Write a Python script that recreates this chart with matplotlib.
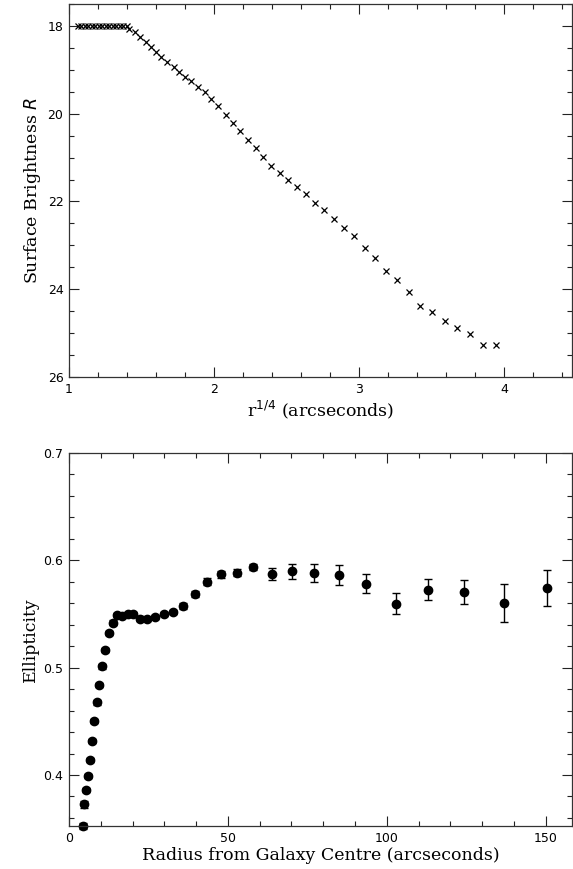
import matplotlib
matplotlib.use("Agg")
import matplotlib.pyplot as plt
from matplotlib.ticker import MultipleLocator

# Surface brightness profile: r^(1/4) (arcsec) vs R-band surface brightness
r_quarter = [1.062, 1.086, 1.110, 1.134, 1.158, 1.182, 1.206, 1.230, 1.254, 1.278,
             1.303, 1.327, 1.351, 1.375, 1.399,
             1.415, 1.454, 1.491, 1.528, 1.564, 1.601, 1.638, 1.679, 1.721, 1.759,
             1.800, 1.844, 1.890, 1.936, 1.982, 2.030, 2.081, 2.129, 2.179, 2.232,
             2.287, 2.340, 2.395, 2.452, 2.512, 2.571, 2.633, 2.698, 2.762, 2.829,
             2.897, 2.966, 3.039, 3.113, 3.187, 3.264, 3.342, 3.422, 3.505, 3.590,
             3.675, 3.765, 3.854, 3.946]
mu_R = [18.00, 18.00, 18.00, 18.00, 18.00, 18.00, 18.00, 18.00, 18.00, 18.00,
        18.00, 18.00, 18.00, 18.00, 18.00,
        18.06, 18.14, 18.25, 18.36, 18.48, 18.59, 18.71, 18.82, 18.93, 19.05,
        19.16, 19.26, 19.39, 19.50, 19.66, 19.83, 20.02, 20.21, 20.40, 20.59,
        20.78, 20.99, 21.19, 21.36, 21.52, 21.67, 21.84, 22.03, 22.19, 22.40,
        22.60, 22.79, 23.07, 23.28, 23.59, 23.79, 24.06, 24.38, 24.52, 24.72,
        24.88, 25.01, 25.27, 25.28]

# Ellipticity profile with 1-sigma errors
radius = [4.3, 4.8, 5.35, 6.0, 6.5, 7.1, 7.8, 8.7, 9.4, 10.4,
          11.4, 12.6, 13.85, 15.2, 16.7, 18.5, 20.2, 22.3, 24.6, 27.1,
          29.8, 32.8, 36.0, 39.6, 43.5, 47.9, 52.8, 58.0, 63.8, 70.2,
          77.2, 85.0, 93.4, 102.8, 113.1, 124.3, 136.8, 150.5]
ellipticity = [0.3526, 0.3727, 0.3860, 0.3993, 0.4142, 0.4316, 0.4500, 0.4676, 0.4840, 0.5011,
               0.5166, 0.5321, 0.5420, 0.5488, 0.5482, 0.5498, 0.5498, 0.5458, 0.5454, 0.5473,
               0.5500, 0.5516, 0.5575, 0.5687, 0.5802, 0.5870, 0.5886, 0.5938, 0.5873, 0.5898,
               0.5882, 0.5863, 0.5783, 0.5597, 0.5724, 0.5709, 0.5603, 0.5742]
ell_err = [0.003, 0.003, 0.002, 0.002, 0.002, 0.002, 0.002, 0.002, 0.002, 0.002,
           0.002, 0.002, 0.002, 0.002, 0.002, 0.002, 0.002, 0.002, 0.002, 0.002,
           0.002, 0.002, 0.003, 0.003, 0.003, 0.003, 0.003, 0.003, 0.0056, 0.0070,
           0.0082, 0.0093, 0.0088, 0.0099, 0.0098, 0.0112, 0.0180, 0.0164]

plt.rcParams['font.family'] = ['DejaVu Serif']
fig = plt.figure(figsize=(5.73, 8.69), dpi=100)

ax1 = fig.add_axes([0.1204, 0.5662, 0.8778, 0.4292])
ax2 = fig.add_axes([0.1204, 0.0495, 0.8778, 0.4292])

def style(ax):
    for s in ax.spines.values():
        s.set_color('#333333')
        s.set_linewidth(0.9)
    ax.tick_params(which='both', direction='in', top=True, right=True,
                   color='#222222', width=0.8)
    ax.tick_params(which='major', length=7, labelsize=9, pad=4)
    ax.tick_params(which='minor', length=3.5)
    for lab in ax.get_xticklabels() + ax.get_yticklabels():
        lab.set_family('DejaVu Sans')

ax1.plot(r_quarter, mu_R, linestyle='none', marker='x', color='black',
         markersize=3.8, markeredgewidth=0.9)
ax1.set_xlim(1, 4.469)
ax1.set_ylim(26, 17.5)
ax1.xaxis.set_major_locator(MultipleLocator(1))
ax1.xaxis.set_minor_locator(MultipleLocator(0.2))
ax1.yaxis.set_major_locator(MultipleLocator(2))
ax1.yaxis.set_minor_locator(MultipleLocator(0.5))
ax1.set_xlabel(r'r$^{1/4}$ (arcseconds)', fontsize=12.5, labelpad=2)
ax1.set_ylabel(r'Surface Brightness $R$', fontsize=12.5, labelpad=3)
style(ax1)

ax2.errorbar(radius, ellipticity, yerr=ell_err, fmt='o', color='black',
             markersize=6, elinewidth=1.0, capsize=3, capthick=1.0,
             ecolor='black', clip_on=False)
ax2.set_xlim(0, 158.3)
ax2.set_ylim(0.3525, 0.7)
ax2.xaxis.set_major_locator(MultipleLocator(50))
ax2.xaxis.set_minor_locator(MultipleLocator(10))
ax2.yaxis.set_major_locator(MultipleLocator(0.1))
ax2.yaxis.set_minor_locator(MultipleLocator(0.02))
ax2.set_xlabel('Radius from Galaxy Centre (arcseconds)', fontsize=12.5, labelpad=2)
ax2.set_ylabel('Ellipticity', fontsize=12.5, labelpad=3)
style(ax2)

fig.savefig('out.png', dpi=100)
